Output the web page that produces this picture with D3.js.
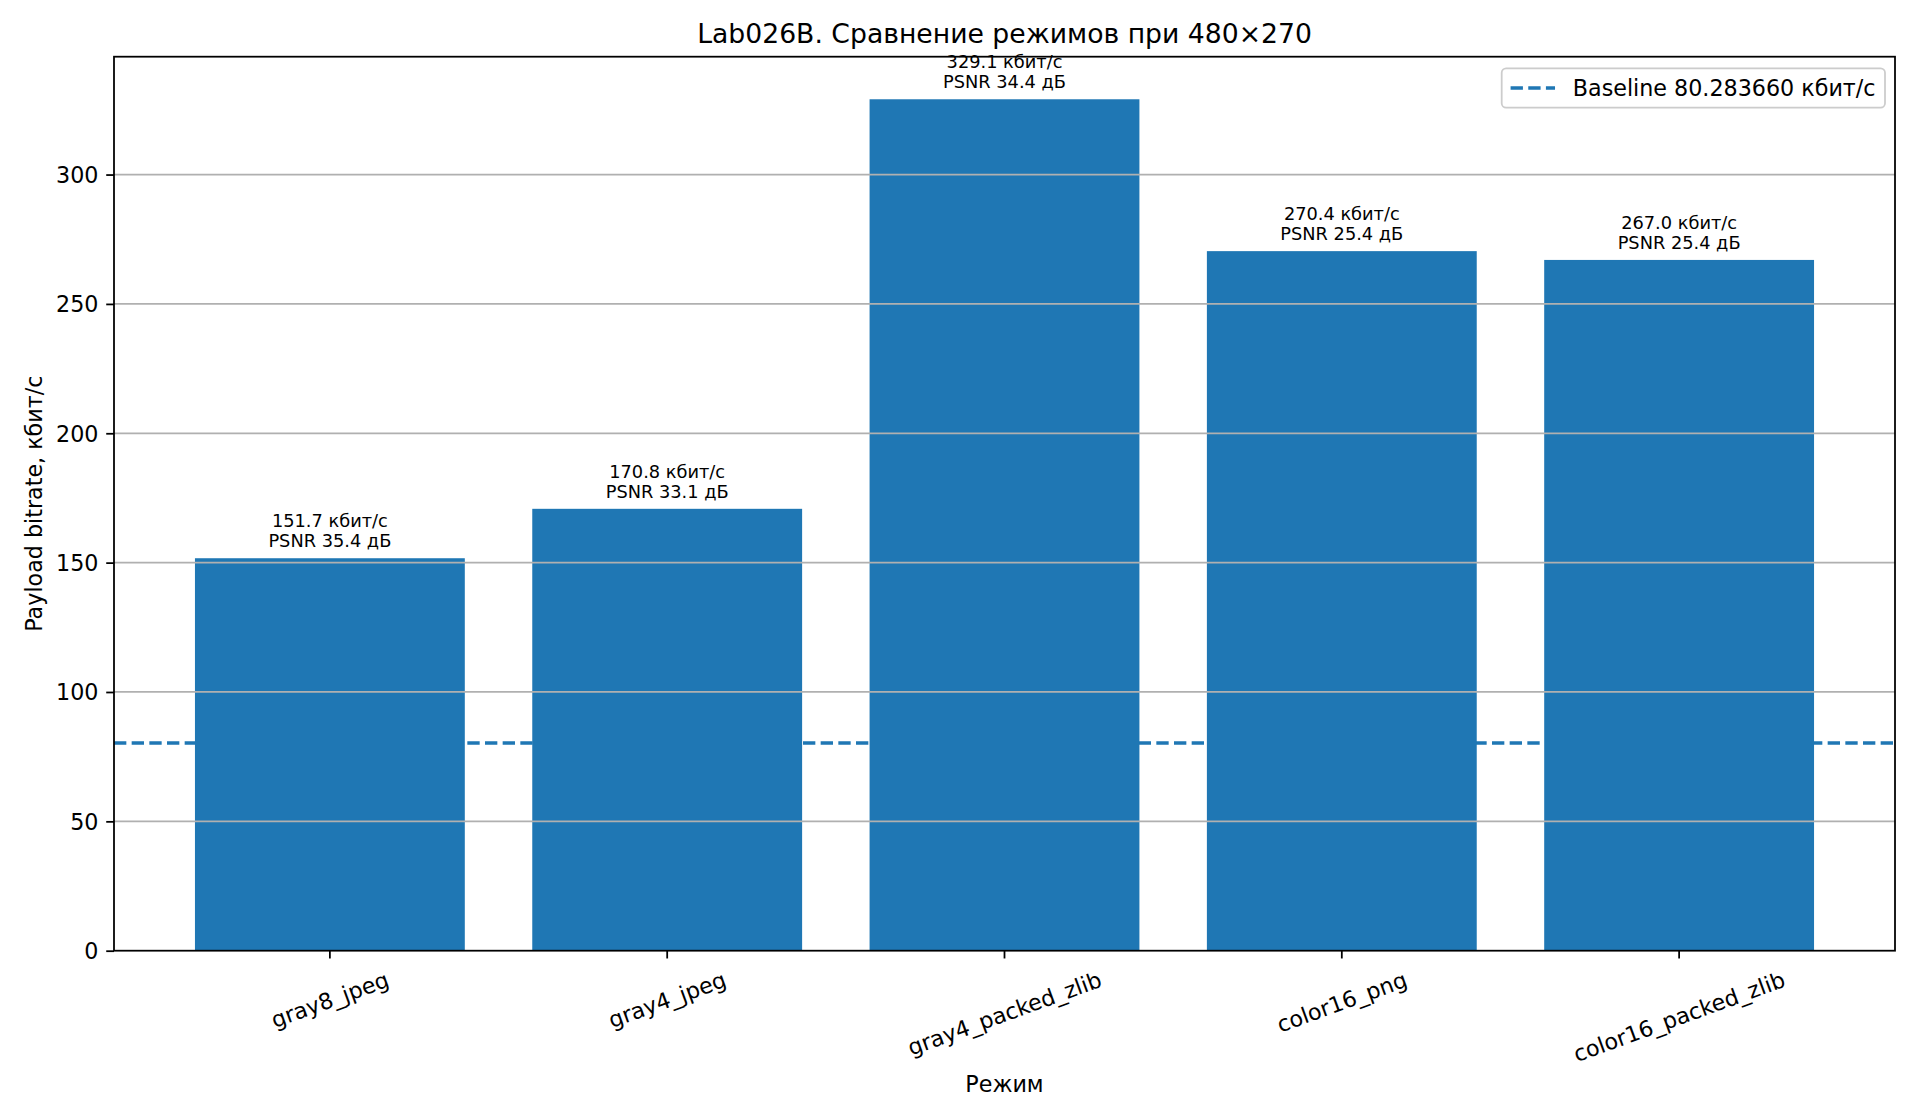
<!DOCTYPE html>
<html>
<head>
<meta charset="utf-8">
<script src="https://cdn.jsdelivr.net/npm/d3@7"></script>
<style>
  html, body { margin: 0; padding: 0; background: #fff; }
  svg { display: block; font-family: "DejaVu Sans", sans-serif; }
</style>
</head>
<body>
<svg id="chart" width="1920" height="1120"></svg>
<script>
const categories = ["gray8_jpeg", "gray4_jpeg", "gray4_packed_zlib", "color16_png", "color16_packed_zlib"];
const bitrates = [151.7, 170.8, 329.1, 270.4, 267.0];
const psnr = [35.4, 33.1, 34.4, 25.4, 25.4];
const baseline = 80.283660;
const yTicks = [0, 50, 100, 150, 200, 250, 300];
const titleText = "Lab026B. Сравнение режимов при 480×270";
const xLabel = "Режим";
const yLabel = "Payload bitrate, кбит/с";
const legendText = "Baseline 80.283660 кбит/с";

const W = 1920, H = 1120;
const m = { left: 114, right: 1895, top: 56.7, bottom: 950.7 };
const pt = 160 / 72;
const fs = 10 * pt;          // 22.2px
const fsSmall = 8 * pt;      // 17.8px
const fsTitle = 12 * pt;     // 26.7px
const blue = "#1f77b4";
const lw = 0.8 * pt;

const svg = d3.select("#chart");

const x = d3.scaleBand().domain(categories).range([m.left, m.right])
  .paddingInner(0.2).paddingOuter(0.24);
const y = d3.scaleLinear().domain([0, d3.max(bitrates) * 1.05]).range([m.bottom, m.top]);

// baseline dashed line (under bars)
svg.append("line")
  .attr("x1", m.left).attr("x2", m.right)
  .attr("y1", y(baseline)).attr("y2", y(baseline))
  .attr("stroke", blue).attr("stroke-width", 1.5 * pt)
  .attr("stroke-dasharray", `${3.7 * 1.5 * pt},${1.6 * 1.5 * pt}`);

// bars
svg.append("g").selectAll("rect").data(categories).join("rect")
  .attr("x", d => x(d))
  .attr("width", x.bandwidth())
  .attr("y", (d, i) => y(bitrates[i]))
  .attr("height", (d, i) => y(0) - y(bitrates[i]))
  .attr("fill", blue);

// grid (above bars)
svg.append("g").selectAll("line").data(yTicks.filter(t => t > 0)).join("line")
  .attr("x1", m.left).attr("x2", m.right)
  .attr("y1", d => y(d)).attr("y2", d => y(d))
  .attr("stroke", "#b0b0b0").attr("stroke-width", lw);

// y axis
const yAxis = svg.append("g").attr("transform", `translate(${m.left},0)`)
  .call(d3.axisLeft(y).tickValues(yTicks).tickSize(3.5 * pt).tickPadding(3.5 * pt).tickFormat(d3.format("d")));
yAxis.select(".domain").remove();
yAxis.selectAll(".tick line").attr("stroke", "#000").attr("stroke-width", lw);
yAxis.selectAll(".tick text").attr("font-size", fs).attr("fill", "#000")
  .attr("font-family", "DejaVu Sans").attr("dy", "0.35em");

// x axis
const xAxis = svg.append("g").attr("transform", `translate(0,${m.bottom})`)
  .call(d3.axisBottom(x).tickSize(3.5 * pt).tickPadding(0));
xAxis.select(".domain").remove();
xAxis.selectAll(".tick line").attr("stroke", "#000").attr("stroke-width", lw);
xAxis.selectAll(".tick text").remove();

// rotated x tick labels (matplotlib rotation=20, ha=center, va=top)
const ang = 20 * Math.PI / 180;
const labelTop = m.bottom + 7 * pt;
categories.forEach(c => {
  const t = svg.append("text")
    .attr("font-size", fs).attr("fill", "#000")
    .attr("text-anchor", "middle")
    .attr("dominant-baseline", "central")
    .text(c);
  const w = t.node().getComputedTextLength();
  const h = fs * 1.17;
  const bh = w * Math.sin(ang) + h * Math.cos(ang);
  const cx = x(c) + x.bandwidth() / 2;
  const cy = labelTop + bh / 2;
  t.attr("transform", `translate(${cx},${cy}) rotate(-20)`);
});

// spines
svg.append("rect")
  .attr("x", m.left).attr("y", m.top)
  .attr("width", m.right - m.left).attr("height", m.bottom - m.top)
  .attr("fill", "none").attr("stroke", "#000").attr("stroke-width", lw);

// bar annotations
const ann = svg.append("g").attr("font-size", fsSmall).attr("fill", "#000").attr("text-anchor", "middle");
categories.forEach((c, i) => {
  const cx = x(c) + x.bandwidth() / 2;
  const top = y(bitrates[i]);
  ann.append("text").attr("x", cx).attr("y", top - 10.8 - 20.3)
    .text(`${bitrates[i].toFixed(1)} кбит/с`);
  ann.append("text").attr("x", cx).attr("y", top - 10.8)
    .text(`PSNR ${psnr[i].toFixed(1)} дБ`);
});

// title
svg.append("text").attr("x", (m.left + m.right) / 2).attr("y", 42.7)
  .attr("text-anchor", "middle").attr("font-size", fsTitle).attr("fill", "#000")
  .text(titleText);

// axis labels
svg.append("text").attr("x", (m.left + m.right) / 2).attr("y", 1092)
  .attr("text-anchor", "middle").attr("font-size", fs).attr("fill", "#000")
  .text(xLabel);
svg.append("text")
  .attr("transform", `translate(41.5,${(m.top + m.bottom) / 2}) rotate(-90)`)
  .attr("text-anchor", "middle").attr("font-size", fs).attr("fill", "#000")
  .text(yLabel);

// legend
const lg = svg.append("g");
const lx0 = 1501.7, ly0 = 68.3, lx1 = 1885, ly1 = 107.7;
lg.append("rect").attr("x", lx0).attr("y", ly0).attr("width", lx1 - lx0).attr("height", ly1 - ly0)
  .attr("rx", 0.2 * fs).attr("ry", 0.2 * fs)
  .attr("fill", "#fff").attr("fill-opacity", 0.8)
  .attr("stroke", "#cccccc").attr("stroke-width", lw);
const lcy = (ly0 + ly1) / 2;
lg.append("line").attr("x1", lx0 + 0.4 * fs).attr("x2", lx0 + 0.4 * fs + 2 * fs)
  .attr("y1", lcy).attr("y2", lcy)
  .attr("stroke", blue).attr("stroke-width", 1.5 * pt)
  .attr("stroke-dasharray", `${3.7 * 1.5 * pt},${1.6 * 1.5 * pt}`);
lg.append("text").attr("x", lx0 + 0.4 * fs + 2.8 * fs).attr("y", lcy)
  .attr("dy", "0.35em").attr("font-size", fs).attr("fill", "#000")
  .text(legendText);
</script>
</body>
</html>
